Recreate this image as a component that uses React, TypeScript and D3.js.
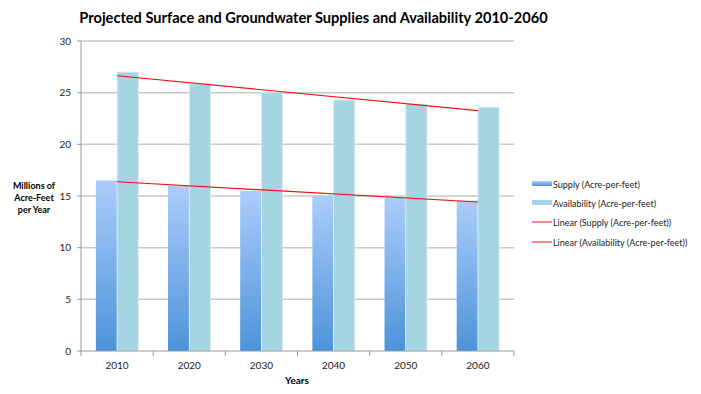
import React from 'react'
import * as d3 from 'd3'

// chart data
const years = ['2010', '2020', '2030', '2040', '2050', '2060']
const supply = [16.5, 16.0, 15.5, 15.0, 14.85, 14.55]
const availability = [27.0, 25.85, 25.05, 24.3, 23.9, 23.6]
const yTicks = [0, 5, 10, 15, 20, 25, 30]
const seriesNames = ['Supply (Acre-per-feet)', 'Availability (Acre-per-feet)']
const trendNames = ['Linear (Supply (Acre-per-feet))', 'Linear (Availability (Acre-per-feet))']

const width = 701
const height = 394
const margin = { top: 41, right: 187, bottom: 43, left: 81 }
const font = 'Lato, "Open Sans", sans-serif'

// least squares fit, like the spreadsheet's linear trendline
function linearFit(values: number[]) {
  const xs = values.map((_, i) => i)
  const mx = d3.mean(xs) as number
  const my = d3.mean(values) as number
  let sxy = 0
  let sxx = 0
  xs.forEach((x, i) => {
    sxy += (x - mx) * (values[i] - my)
    sxx += (x - mx) * (x - mx)
  })
  const slope = sxy / sxx
  return (x: number) => my + slope * (x - mx)
}

export default function App() {
  const x = d3
    .scaleBand()
    .domain(years)
    .range([margin.left, width - margin.right])
  const inner = d3
    .scaleBand()
    .domain(['supply', 'availability'])
    .range([0, x.bandwidth()])
    .paddingOuter(0.7)
  const y = d3
    .scaleLinear()
    .domain([0, 30])
    .range([height - margin.bottom, margin.top])

  const center = (i: number) => (x(years[i]) as number) + x.bandwidth() / 2
  const fits = [linearFit(supply), linearFit(availability)]
  const trendLine = (f: (x: number) => number) =>
    d3.line<number>()
      .x(i => center(i))
      .y(i => y(f(i)))([0, years.length - 1]) as string

  const legendX = 532
  const legendY = [184, 203, 222, 242]

  return (
    <svg
      width={width}
      height={height}
      style={{ position: 'absolute', left: 0, top: 0, background: '#fff' }}
      fontFamily={font}
    >
      <defs>
        <linearGradient id="supplyGrad" x1="0" y1="0" x2="0" y2="1">
          <stop offset="0%" stopColor="#abcdfb" />
          <stop offset="100%" stopColor="#4d93d9" />
        </linearGradient>
      </defs>

      <text x={313.5} y={23} textAnchor="middle" fontSize={14.6} fontWeight="bold" fill="#000">
        Projected Surface and Groundwater Supplies and Availability 2010-2060
      </text>

      {/* grid */}
      {yTicks.filter(t => t > 0).map(t => (
        <line key={t} x1={margin.left} x2={width - margin.right} y1={y(t)} y2={y(t)} stroke="#c8c8c8" strokeWidth={1.5} />
      ))}
      {yTicks.map(t => (
        <g key={'yt' + t}>
          <line x1={margin.left - 4} x2={margin.left} y1={y(t)} y2={y(t)} stroke="#999" />
          <text x={margin.left - 10} y={y(t) + 3.5} textAnchor="end" fontSize={10} fill="#222">{t}</text>
        </g>
      ))}

      {/* bars */}
      {years.map((yr, i) => (
        <g key={yr} transform={`translate(${x(yr)},0)`}>
          <rect
            x={inner('supply')}
            y={y(supply[i])}
            width={inner.bandwidth()}
            height={y(0) - y(supply[i])}
            fill="url(#supplyGrad)"
          />
          <rect
            x={inner('availability')}
            y={y(availability[i])}
            width={inner.bandwidth()}
            height={y(0) - y(availability[i])}
            fill="#a5d5e2"
            stroke="#e6eef0"
            strokeWidth={0.8}
          />
        </g>
      ))}

      {/* trendlines */}
      {fits.map((f, k) => (
        <path key={k} d={trendLine(f)} stroke="#f01010" strokeWidth={1.2} fill="none" />
      ))}

      {/* axes */}
      <line x1={margin.left} x2={margin.left} y1={margin.top} y2={y(0)} stroke="#999" />
      <line x1={margin.left} x2={width - margin.right} y1={y(0)} y2={y(0)} stroke="#999" />
      {years.concat(['end']).map((yr, i) => {
        const px = margin.left + i * x.bandwidth()
        return <line key={'xt' + i} x1={px} x2={px} y1={y(0)} y2={y(0) + 5} stroke="#999" />
      })}
      {years.map((yr, i) => (
        <text key={'xl' + yr} x={center(i)} y={369} textAnchor="middle" fontSize={10} fill="#222">{yr}</text>
      ))}

      <text x={297} y={384} textAnchor="middle" fontSize={10} fontWeight="bold">Years</text>
      <text textAnchor="middle" fontSize={9} fontWeight="bold">
        <tspan x={34} y={189}>Millions of</tspan>
        <tspan x={34} y={201}>Acre-Feet</tspan>
        <tspan x={34} y={213}>per Year</tspan>
      </text>

      {/* legend */}
      <rect x={legendX} y={legendY[0] - 3} width={20} height={5} fill="url(#supplyGrad)" />
      <rect x={legendX} y={legendY[1] - 3} width={20} height={5} fill="#a5d5e2" />
      <line x1={legendX} x2={legendX + 20} y1={legendY[2]} y2={legendY[2]} stroke="#f01010" />
      <line x1={legendX} x2={legendX + 20} y1={legendY[3]} y2={legendY[3]} stroke="#f01010" />
      {seriesNames.concat(trendNames).map((n, i) => (
        <text key={n} x={legendX + 21} y={legendY[i] + 3.5} fontSize={9} fill="#222">{n}</text>
      ))}
    </svg>
  )
}
